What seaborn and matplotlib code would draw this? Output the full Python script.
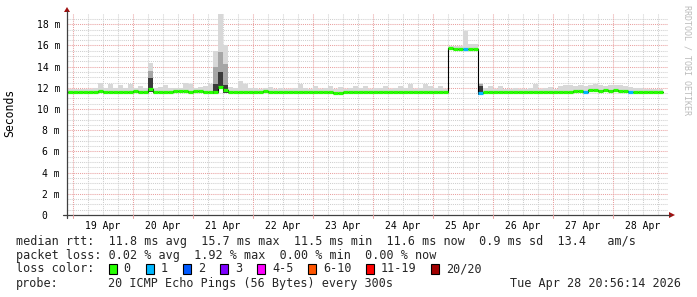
import numpy as np
import matplotlib
matplotlib.use("Agg")
import matplotlib.pyplot as plt
import seaborn as sns
from matplotlib.lines import Line2D
from matplotlib.patches import Polygon, Rectangle

# ---------------- data (hours since 19 Apr 00:00, 2-hour samples) ----------------
start_hour = -4
step_hours = 2

median_ms = [
    11.65, 11.65, 11.60, 11.65, 11.65, 11.60, 11.65, 11.70, 11.65, 11.60,
    11.65, 11.60, 11.65, 11.65, 11.70, 11.65, 11.65, 11.85, 11.65, 11.60,
    11.60, 11.60, 11.70, 11.70, 11.70, 11.65, 11.70, 11.70, 11.65, 11.65,
    11.60, 12.10, 11.75, 11.65, 11.65, 11.60, 11.65, 11.65, 11.65, 11.65,
    11.70, 11.65, 11.60, 11.60, 11.60, 11.60, 11.60, 11.60, 11.60, 11.60,
    11.60, 11.65, 11.60, 11.60, 11.55, 11.55, 11.60, 11.60, 11.60, 11.60,
    11.60, 11.60, 11.60, 11.65, 11.60, 11.60, 11.60, 11.60, 11.60, 11.60,
    11.60, 11.60, 11.60, 11.60, 11.60, 11.60, 11.65, 15.75, 15.70, 15.70,
    15.65, 15.70, 15.70, 11.55, 11.60, 11.60, 11.60, 11.60, 11.60, 11.60,
    11.60, 11.60, 11.60, 11.60, 11.60, 11.60, 11.60, 11.60, 11.60, 11.65,
    11.65, 11.65, 11.70, 11.70, 11.65, 11.75, 11.75, 11.70, 11.75, 11.70,
    11.75, 11.70, 11.70, 11.65, 11.60, 11.60, 11.60, 11.60, 11.60, 11.60,
]

smoke_max_ms = [
    11.80, 11.90, 11.90, 11.85, 11.90, 11.85, 12.00, 12.50, 11.95, 12.40,
    12.00, 12.30, 11.95, 12.40, 12.00, 12.20, 11.95, 14.30, 12.00, 12.10,
    12.30, 11.95, 12.00, 11.95, 12.50, 12.40, 12.00, 12.05, 12.20, 12.40,
    15.50, 19.00, 16.00, 12.10, 11.95, 12.60, 12.40, 12.00, 11.95, 11.90,
    11.95, 12.10, 11.90, 11.95, 11.90, 11.90, 12.00, 12.35, 12.00, 11.90,
    12.20, 11.90, 12.00, 12.20, 11.90, 12.10, 11.90, 12.00, 12.20, 12.00,
    12.15, 11.90, 12.00, 11.95, 12.20, 11.90, 12.00, 12.20, 12.00, 12.35,
    11.90, 12.00, 12.35, 12.20, 12.00, 12.20, 11.90, 15.90, 15.90, 15.95,
    17.40, 16.10, 16.10, 12.50, 12.00, 12.20, 11.90, 12.20, 11.90, 11.90,
    11.95, 11.90, 11.90, 11.95, 12.35, 11.90, 11.95, 12.10, 11.90, 12.20,
    12.25, 12.30, 12.20, 12.25, 12.20, 12.30, 12.35, 12.25, 12.20, 12.30,
    12.25, 12.30, 12.20, 12.10, 11.95, 12.00, 11.90, 11.85, 11.90, 11.85,
]

lost_pings = [
    0, 0, 0, 0, 0, 0, 0, 0, 0, 0,
    0, 0, 0, 0, 0, 0, 0, 0, 0, 0,
    0, 0, 0, 0, 0, 0, 0, 0, 0, 0,
    0, 0, 0, 0, 0, 0, 0, 0, 0, 0,
    0, 0, 0, 0, 0, 0, 0, 0, 0, 0,
    0, 0, 0, 0, 0, 0, 0, 0, 0, 0,
    0, 0, 0, 0, 0, 0, 0, 0, 0, 0,
    0, 0, 0, 0, 0, 0, 0, 0, 0, 0,
    1, 0, 0, 1, 0, 0, 0, 0, 0, 0,
    0, 0, 0, 0, 0, 0, 0, 0, 0, 0,
    0, 0, 0, 0, 1, 0, 0, 0, 0, 0,
    0, 0, 0, 1, 0, 0, 0, 0, 0, 0,
]

# samples with a dense burst of slow pings (inner smoke quantiles)
burst_sample = [17, 30, 31, 32, 83]
burst_p90_ms = [13.60, 14.00, 15.40, 14.20, 12.35]
burst_p75_ms = [12.90, 12.40, 13.50, 12.30, 12.15]

day_labels = ["19 Apr", "20 Apr", "21 Apr", "22 Apr", "23 Apr",
              "24 Apr", "25 Apr", "26 Apr", "27 Apr", "28 Apr"]
y_values = [0, 2, 4, 6, 8, 10, 12, 14, 16, 18]
y_labels = ["0\u00a0\u00a0", "2 m", "4 m", "6 m", "8 m", "10 m",
            "12 m", "14 m", "16 m", "18 m"]

loss_labels = ["0", "1", "2", "3", "4-5", "6-10", "11-19", "20/20"]
loss_colors = ["#26ff00", "#00b8ff", "#0059ff", "#7e00ff",
               "#ff00ff", "#ff5500", "#ff0000", "#a10000"]

rtt_line = "median rtt:  11.8 ms avg  15.7 ms max  11.5 ms min  11.6 ms now  0.9 ms sd  13.4   am/s"
loss_line = "packet loss: 0.02 % avg  1.92 % max  0.00 % min  0.00 % now"
probe_label = "probe:"
probe_desc = "20 ICMP Echo Pings (56 Bytes) every 300s"
stamp = "Tue Apr 28 20:56:14 2026"

# ---------------- figure ----------------
sns.set_theme(style="white")
plt.rcParams["font.family"] = ["DejaVu Sans Mono", "DejaVu Sans"]
MONO = "DejaVu Sans Mono"

W, H = 697, 297
fig = plt.figure(figsize=(W / 100, H / 100), dpi=100, facecolor="white")
ax = fig.add_axes([67 / W, 1 - 215 / H, (668 - 67) / W, (215 - 13.6) / H])
ax.set_facecolor("white")
ax.set_xlim(-2.4, 238)
ax.set_ylim(0, 19)
for s in ax.spines.values():
    s.set_visible(False)

n = len(median_ms)
hours = start_hour + step_hours * np.arange(n + 1)
med = np.array(median_ms + [median_ms[-1]])
smax = np.array(smoke_max_ms + [smoke_max_ms[-1]])

# grid
grey = "#cfcfcf"
pink = "#e9a0a0"
dots = (0, (1, 1))
for v in np.arange(0.5, 19, 0.5):
    if abs(v / 2 - round(v / 2)) > 1e-6:
        ax.axhline(v, color=grey, lw=0.75, ls=dots, zorder=0)
for h in np.arange(0, 238, 6):
    if h % 24 != 0:
        ax.axvline(h, color=grey, lw=0.75, ls=dots, zorder=0)
for v in range(2, 19, 2):
    ax.axhline(v, color=pink, lw=0.75, ls=dots, zorder=0.5)
for h in range(0, 238, 24):
    ax.axvline(h, color=pink, lw=0.75, ls=dots, zorder=0.5)

# smoke
ax.fill_between(hours, med, smax, step="post", color="#d8d8d8", lw=0, zorder=1)
p90 = med.copy()
p75 = med.copy()
for i, a, b in zip(burst_sample, burst_p90_ms, burst_p75_ms):
    p90[i] = a
    p75[i] = b
ax.fill_between(hours, med, p90, step="post", color="#a6a6a6", lw=0, zorder=1.1)
ax.fill_between(hours, med - 0.2 * (p75 > med), p75, step="post",
                color="#3a3a3a", lw=0, zorder=1.2)

# median connector (black step) and loss-coloured median segments
sns.lineplot(x=hours, y=med, drawstyle="steps-post", color="black",
             lw=0.8, ax=ax, zorder=2, legend=False)


def loss_color(k):
    if k <= 0:
        return loss_colors[0]
    if k <= 3:
        return loss_colors[k]
    if k <= 5:
        return loss_colors[4]
    if k <= 10:
        return loss_colors[5]
    if k <= 19:
        return loss_colors[6]
    return loss_colors[7]


seg_colors = [loss_color(k) for k in lost_pings]
ax.hlines(median_ms, hours[:-1], hours[1:], colors=seg_colors, lw=2.3,
          zorder=3, capstyle="butt")

# ticks
ax.set_xticks([12 + 24 * i for i in range(len(day_labels))])
ax.set_xticklabels(day_labels, fontfamily=MONO, fontsize=7, color="black")
ax.set_yticks(y_values)
ax.set_yticklabels(y_labels, fontfamily=MONO, fontsize=7, color="black")
ax.tick_params(axis="x", length=0, pad=4.2)
ax.tick_params(axis="y", length=0, pad=5)


def fx(x):
    return x / W


def fy(y):
    return 1 - y / H


# axes lines with arrows
axis_col = "#404040"
arrow_col = "#a01010"
fig.add_artist(Line2D([fx(67), fx(67)], [fy(218), fy(11)], color=axis_col, lw=0.9))
fig.add_artist(Line2D([fx(63), fx(670)], [fy(215), fy(215)], color=axis_col, lw=0.9))
fig.add_artist(Polygon([[fx(64), fy(12)], [fx(70), fy(12)], [fx(67), fy(7)]],
                       closed=True, color=arrow_col, lw=0))
fig.add_artist(Polygon([[fx(669), fy(212)], [fx(669), fy(218)], [fx(675), fy(215)]],
                       closed=True, color=arrow_col, lw=0))
for h in range(0, 238, 24):
    xp = 73 + 2.5 * h
    fig.add_artist(Line2D([fx(xp), fx(xp)], [fy(215), fy(218)], color=pink, lw=0.75))

# y unit label and watermark
fig.text(fx(10), fy(113), "Seconds", rotation=90, ha="center", va="center",
         fontfamily=MONO, fontsize=8.3, color="black")
fig.text(fx(687), fy(60), "RRDTOOL / TOBI OETIKER", rotation=270, ha="center",
         va="center", fontfamily=MONO, fontsize=6, color="#bbbbbb")

# legend area
FS = 8.45
fig.text(fx(16), fy(241), rtt_line, ha="left", va="center", fontfamily=MONO, fontsize=FS)
fig.text(fx(16), fy(255), loss_line, ha="left", va="center", fontfamily=MONO, fontsize=FS)
fig.text(fx(16), fy(269), "loss color:", ha="left", va="center", fontfamily=MONO, fontsize=FS)
box_x = [108.5, 146, 183, 220, 257, 308, 366, 431]
for lab, col, bx in zip(loss_labels, loss_colors, box_x):
    fig.add_artist(Rectangle((fx(bx), fy(274)), 8 / W, 10 / H, facecolor=col,
                             edgecolor="black", lw=0.8))
    fig.text(fx(bx + 15), fy(269), lab, ha="left", va="center", fontfamily=MONO, fontsize=FS)
fig.text(fx(16), fy(284), probe_label, ha="left", va="center", fontfamily=MONO, fontsize=FS)
fig.text(fx(108), fy(284), probe_desc, ha="left", va="center", fontfamily=MONO, fontsize=FS)
fig.text(fx(681), fy(284), stamp, ha="right", va="center", fontfamily=MONO, fontsize=FS)

fig.savefig("out.png", dpi=100, facecolor="white")
